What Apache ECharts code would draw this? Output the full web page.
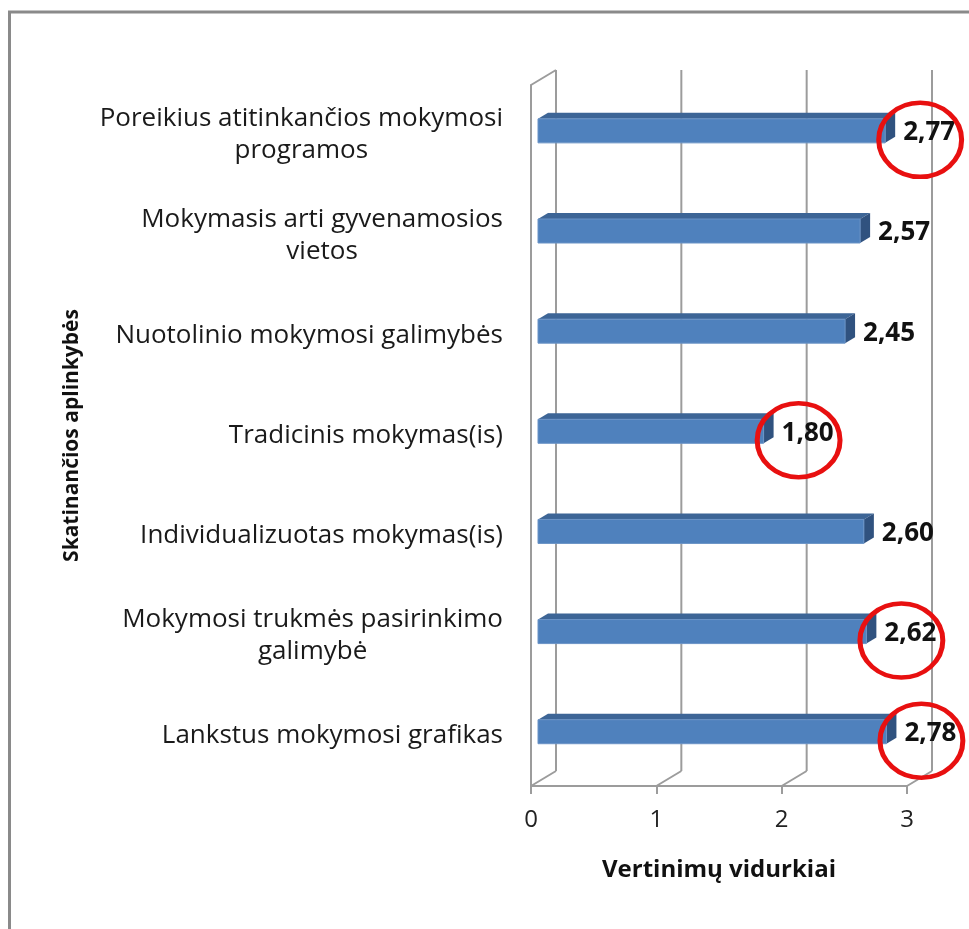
<!DOCTYPE html>
<html>
<head>
<meta charset="utf-8">
<script src="https://cdn.jsdelivr.net/npm/echarts@6/dist/echarts.min.js"></script>
<style>
  html, body { margin: 0; padding: 0; background: #fff; }
  #chart { width: 969px; height: 929px; }
</style>
</head>
<body>
<div id="chart"></div>
<script>
// categories, top to bottom
const categories = [
  'Poreikius atitinkančios mokymosi\nprogramos',
  'Mokymasis arti gyvenamosios\nvietos',
  'Nuotolinio mokymosi galimybės',
  'Tradicinis mokymas(is)',
  'Individualizuotas mokymas(is)',
  'Mokymosi trukmės pasirinkimo\ngalimybė',
  'Lankstus mokymosi grafikas'
];
const values = [2.77, 2.57, 2.45, 1.80, 2.60, 2.62, 2.78];
// values circled in red on the original
const circled = [true, false, false, true, false, true, true];
const xTicks = [0, 1, 2, 3];

const FONT = '"Open Sans", "Noto Sans", sans-serif';
const GRID_COLOR = '#9c9c9c';
// 3D depth offset of the back wall
const DX = 25, DY = -15;

const chart = echarts.init(document.getElementById('chart'));

const frameSeries = {
  type: 'custom',
  silent: true,
  z: 1,
  data: [0],
  renderItem: function (params, api) {
    const cs = params.coordSys;
    const top = cs.y, bottom = cs.y + cs.height;
    const children = [];
    const ls = { stroke: GRID_COLOR, lineWidth: 2 };
    xTicks.forEach(function (t) {
      const x = api.coord([t, 0])[0];
      // back wall line
      children.push({ type: 'line', shape: { x1: x + DX, y1: bottom + DY, x2: x + DX, y2: top + DY }, style: ls });
      // floor diagonal
      children.push({ type: 'line', shape: { x1: x, y1: bottom, x2: x + DX, y2: bottom + DY }, style: ls });
    });
    const x0 = api.coord([0, 0])[0];
    children.push({ type: 'line', shape: { x1: x0, y1: top, x2: x0 + DX, y2: top + DY }, style: ls });
    return { type: 'group', children: children };
  }
};

const barSeries = {
  type: 'custom',
  z: 3,
  data: values.map(function (v, i) { return [v, i]; }),
  encode: { x: 0, y: 1 },
  renderItem: function (params, api) {
    const v = api.value(0), i = api.value(1);
    const p0 = api.coord([0, i]);
    const p1 = api.coord([v, i]);
    const d1 = 0.28, d2 = 0.68;
    const h = 24;
    const xl = p0[0] + DX * d1, xr = p1[0] + DX * d1;
    const yc = p0[1] + DY * d1;
    const yt = yc - h / 2, yb = yc + h / 2;
    const ddx = DX * (d2 - d1), ddy = DY * (d2 - d1);
    const children = [
      { type: 'polygon', shape: { points: [[xl, yt], [xr, yt], [xr + ddx, yt + ddy], [xl + ddx, yt + ddy]] },
        style: { fill: '#3d6596' } },
      { type: 'polygon', shape: { points: [[xr, yt], [xr + ddx, yt + ddy], [xr + ddx, yb + ddy], [xr, yb]] },
        style: { fill: '#30527f' } },
      { type: 'rect', shape: { x: xl, y: yt, width: xr - xl, height: h },
        style: { fill: '#4f81bd', stroke: '#6b93c6', lineWidth: 1 } },
      { type: 'text', x: xr + ddx + 8, y: yc + 2,
        style: { text: v.toFixed(2).replace('.', ','), fill: '#111', font: 'bold 26px ' + FONT,
          align: 'left', verticalAlign: 'middle' } }
    ];
    if (circled[params.dataIndex]) {
      children.push({ type: 'circle', x: xr + ddx + 25, y: yc + 9, scaleX: 1.12,
        shape: { cx: 0, cy: 0, r: 37 },
        style: { fill: 'none', stroke: '#e81010', lineWidth: 4.5 } });
    }
    return { type: 'group', children: children };
  }
};

const option = {
  backgroundColor: '#fff',
  animation: false,
  grid: { left: 531, right: 62, top: 85, bottom: 143 },
  graphic: [
    { type: 'line', shape: { x1: 9.5, y1: 12, x2: 9.5, y2: 929 }, style: { stroke: '#8a8a8a', lineWidth: 3 } },
    { type: 'line', shape: { x1: 8, y1: 12, x2: 969, y2: 12 }, style: { stroke: '#8a8a8a', lineWidth: 3 } }
  ],
  xAxis: {
    type: 'value',
    min: 0,
    max: 3,
    interval: 1,
    name: 'Vertinimų vidurkiai',
    nameLocation: 'middle',
    nameGap: 72,
    nameTextStyle: { fontFamily: FONT, fontWeight: 'bold', fontSize: 24, color: '#111' },
    axisLine: { show: true, lineStyle: { color: GRID_COLOR, width: 2 } },
    axisTick: { show: true, length: 8, lineStyle: { color: GRID_COLOR, width: 2 } },
    axisLabel: { fontFamily: FONT, fontSize: 24, color: '#222', margin: 22 },
    splitLine: { show: false }
  },
  yAxis: {
    type: 'category',
    inverse: true,
    data: categories,
    name: 'Skatinančios aplinkybės',
    nameLocation: 'middle',
    nameGap: 448,
    nameRotate: 90,
    nameTextStyle: { fontFamily: FONT, fontWeight: 'bold', fontSize: 21, color: '#111' },
    axisLine: { show: true, lineStyle: { color: GRID_COLOR, width: 2 } },
    axisTick: { show: false },
    axisLabel: {
      margin: 28,
      formatter: function (s) {
        return s.split('\n').map(function (l) { return '{c|' + l + '}'; }).join('\n');
      },
      rich: { c: { align: 'center', fontFamily: FONT, fontSize: 26, color: '#1a1a1a', lineHeight: 32 } }
    }
  },
  series: [frameSeries, barSeries]
};

chart.setOption(option);
</script>
</body>
</html>
